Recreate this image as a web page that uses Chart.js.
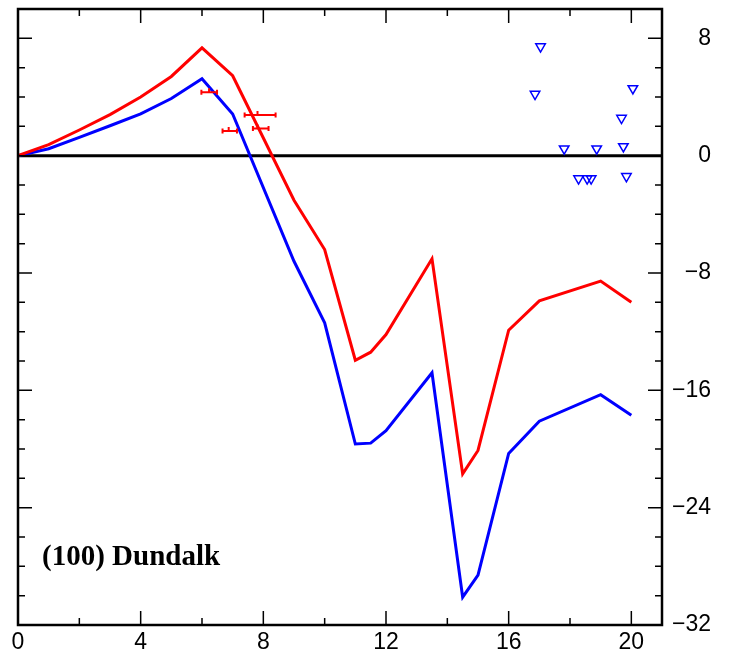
<!DOCTYPE html>
<html><head><meta charset="utf-8">
<script src="https://cdn.jsdelivr.net/npm/chart.js@4/dist/chart.umd.min.js"></script>
<style>html,body{margin:0;padding:0;background:#fff}#wrap{width:731px;height:658px}</style>
</head><body><div id="wrap"><canvas id="c" width="731" height="658"></canvas></div>
<script>
// Model curves
const modelX = [0, 1, 2, 3, 4, 5, 6, 7, 9, 10, 11, 11.5, 12, 13.5, 14.5, 15, 16, 17, 19, 20];
const redY  = [0, 0.75, 1.75, 2.8, 4.0, 5.4, 7.35, 5.45, -3.04, -6.4, -13.95, -13.4, -12.2, -7.03, -21.7, -20.1, -11.9, -9.9, -8.55, -10.0];
const blueY = [0, 0.47, 1.25, 2.04, 2.85, 3.9, 5.24, 2.84, -7.2, -11.4, -19.66, -19.6, -18.75, -14.8, -30.1, -28.6, -20.3, -18.1, -16.3, -17.7];

// Red observations with horizontal error bars
const obsX   = [6.23, 6.87, 7.81, 7.81];
const obsY   = [4.33, 1.68, 2.77, 1.86];
const obsXLo = [5.98, 6.67, 7.39, 7.66];
const obsXHi = [6.49, 7.14, 8.40, 8.17];

// Blue triangle observations
const triX = [17.04, 16.86, 20.05, 19.68, 17.81, 18.87, 19.74, 18.28, 18.56, 18.69, 19.84];
const triY = [7.44, 4.2, 4.58, 2.56, 0.48, 0.48, 0.63, -1.56, -1.56, -1.56, -1.41];

// Tick labels
const xLabelValues = [0, 4, 8, 12, 16, 20];
const yLabelValues = [8, 0, -8, -16, -24, -32];
const panelLabel = '(100) Dundalk';

const toPts = (xs, ys) => xs.map((x, i) => ({x: x, y: ys[i]}));

const framePlugin = {
  id: 'frame',
  beforeDatasetsDraw(chart) {
    const {ctx, chartArea: a, scales: {y}} = chart;
    const y0 = y.getPixelForValue(0);
    ctx.save();
    ctx.strokeStyle = '#000';
    ctx.lineWidth = 3;
    ctx.beginPath(); ctx.moveTo(a.left, y0); ctx.lineTo(a.right, y0); ctx.stroke();
    ctx.restore();
  },
  afterDatasetsDraw(chart) {
    const {ctx, chartArea: a, scales: {x, y}} = chart;
    ctx.save();
    // error bars
    ctx.strokeStyle = '#ff0000';
    ctx.lineWidth = 2;
    for (let i = 0; i < obsX.length; i++) {
      const py = y.getPixelForValue(obsY[i]);
      const pl = x.getPixelForValue(obsXLo[i]);
      const pr = x.getPixelForValue(obsXHi[i]);
      const pc = x.getPixelForValue(obsX[i]);
      ctx.beginPath();
      ctx.moveTo(pl, py); ctx.lineTo(pr, py);
      ctx.moveTo(pl, py - 2.5); ctx.lineTo(pl, py + 2.5);
      ctx.moveTo(pr, py - 2.5); ctx.lineTo(pr, py + 2.5);
      ctx.moveTo(pc, py); ctx.lineTo(pc, py - 4);
      ctx.stroke();
    }
    // ticks
    ctx.strokeStyle = '#000';
    ctx.lineWidth = 1.5;
    ctx.beginPath();
    x.ticks.forEach(t => {
      const v = t.value; const px = x.getPixelForValue(v);
      const len = (v % 4 === 0) ? 14 : 7;
      ctx.moveTo(px, a.bottom); ctx.lineTo(px, a.bottom - len);
      ctx.moveTo(px, a.top); ctx.lineTo(px, a.top + len);
    });
    y.ticks.forEach(t => {
      const v = t.value; const py = y.getPixelForValue(v);
      const len = (v % 8 === 0) ? 14 : 7;
      ctx.moveTo(a.left, py); ctx.lineTo(a.left + len, py);
      ctx.moveTo(a.right, py); ctx.lineTo(a.right - len, py);
    });
    ctx.stroke();
    // frame
    ctx.lineWidth = 2.5;
    ctx.strokeRect(a.left, a.top, a.right - a.left, a.bottom - a.top);
    // panel label
    ctx.fillStyle = '#000';
    ctx.font = 'bold 29px "Liberation Serif", "Times New Roman", serif';
    ctx.textBaseline = 'alphabetic';
    ctx.textAlign = 'left';
    ctx.fillText(panelLabel, a.left + 24, a.bottom - 60);
    ctx.restore();
  }
};

new Chart(document.getElementById('c'), {
  type: 'scatter',
  data: {
    datasets: [
      {type: 'line', data: toPts(modelX, redY), borderColor: '#ff0000', borderWidth: 3, pointRadius: 0, tension: 0, fill: false},
      {type: 'line', data: toPts(modelX, blueY), borderColor: '#0000ff', borderWidth: 3, pointRadius: 0, tension: 0, fill: false},
      {data: toPts(triX, triY), pointStyle: 'triangle', rotation: 180, pointRadius: 5.5, borderWidth: 1.5,
       borderColor: '#0000ff', backgroundColor: 'rgba(0,0,0,0)'}
    ]
  },
  options: {
    responsive: false,
    animation: false,
    layout: {padding: {left: 18, top: 9, right: 20, bottom: 0}},
    plugins: {legend: {display: false}, tooltip: {enabled: false}},
    scales: {
      x: {
        type: 'linear', min: 0, max: 21,
        grid: {display: false, drawTicks: false},
        border: {display: false},
        ticks: {
          stepSize: 2, includeBounds: false, autoSkip: false, maxRotation: 0,
          padding: 4, color: '#000',
          font: {family: '"Liberation Sans", Arial, sans-serif', size: 23},
          callback: v => xLabelValues.includes(v) ? String(v) : ''
        },
        afterFit: s => { s.height = 33; s.paddingLeft = 0; s.paddingRight = 0; }
      },
      y: {
        type: 'linear', position: 'right', min: -32, max: 10,
        grid: {display: false, drawTicks: false},
        border: {display: false},
        ticks: {
          stepSize: 2, includeBounds: false, autoSkip: false,
          padding: 8, crossAlign: 'far', color: '#000',
          font: {family: '"Liberation Sans", Arial, sans-serif', size: 23},
          callback: v => yLabelValues.includes(v) ? (v < 0 ? '\u2212' + (-v) : String(v)) : ''
        },
        afterFit: s => { s.width = 49; s.paddingTop = 0; s.paddingBottom = 0; }
      }
    }
  },
  plugins: [framePlugin]
});
</script>
</body></html>
